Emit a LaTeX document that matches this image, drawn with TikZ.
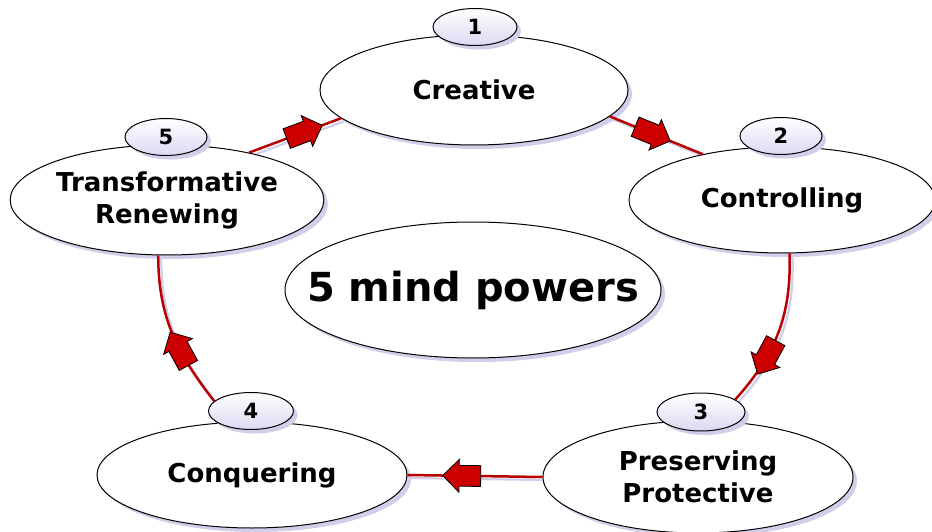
\documentclass[tikz,border=0pt]{standalone}
\usepackage{fontspec}
\setmainfont{DejaVu Sans}
\usetikzlibrary{shapes.geometric,shapes.arrows,shadows,backgrounds}
\definecolor{shad}{RGB}{208,206,232}
\definecolor{arrred}{RGB}{204,0,0}
\definecolor{linered}{RGB}{185,0,0}
\definecolor{numbot}{RGB}{222,216,242}
\begin{document}
\begin{tikzpicture}[x=1pt,y=1pt,
  eshadow/.style={drop shadow={shadow xshift=4pt,shadow yshift=-4pt,fill=shad,opacity=1}},
  bigell/.style={ellipse,draw=black,line width=1pt,fill=white,inner sep=0pt,
    font=\fontsize{26}{32}\selectfont\bfseries,align=center,eshadow},
  numell/.style={ellipse,draw=black,line width=1pt,top color=white,bottom color=numbot,
    inner sep=0pt,font=\fontsize{21}{24}\selectfont\bfseries,eshadow},
  conn/.style={draw=linered,line width=2.5pt},
  connshadow/.style={draw=shad,line width=2.2pt,transform canvas={xshift=3pt,yshift=-3pt}},
  blockarrow/.style={single arrow,draw=black,line width=0.8pt,fill=arrred,
    minimum height=38pt,minimum width=32pt,single arrow head extend=6pt,
    inner sep=10pt,sloped,allow upside down}
]
\useasboundingbox (0,0) rectangle (932,531);
% main ellipses
\node[bigell,minimum width=308pt,minimum height=110pt] (crea) at (474,441) {Creative};
\node[bigell,minimum width=306pt,minimum height=106pt] (ctrl) at (782,331) {Controlling};
\node[bigell,minimum width=310pt,minimum height=112pt] (pres) at (698,54) {Preserving\\Protective};
\node[bigell,minimum width=310pt,minimum height=106pt] (conq) at (252,56) {Conquering};
\node[bigell,minimum width=310pt,minimum height=110pt] (trans) at (167,331) {Transformative\\Renewing};
\node[bigell,minimum width=376pt,minimum height=136pt,font=\fontsize{40}{44}\selectfont\bfseries] (center) at (473,241) {\makebox[0pt]{5 mind powers}};
% number ellipses
\node[numell,minimum width=84pt,minimum height=37pt] (n1) at (475,504) {1};
\node[numell,minimum width=82pt,minimum height=37pt] (n2) at (781,395) {2};
\node[numell,minimum width=88pt,minimum height=38pt] (n3) at (701,119) {3};
\node[numell,minimum width=85pt,minimum height=37pt] (n4) at (251,120) {4};
\node[numell,minimum width=82pt,minimum height=37pt] (n5) at (166,394) {5};
% background and connector shadows
\begin{scope}[on background layer]
\fill[white] (0,0) rectangle (932,531);
\path[connshadow] (trans.30) -- (crea.192);
\path[connshadow] (crea.-11) -- (ctrl.150);
\path[connshadow] (ctrl.-82) to[out=-88,in=48] (n3.20);
\path[connshadow] (pres.west) -- (conq.east);
\path[connshadow] (n4.165) to[out=128,in=-90] (trans.-99);
\end{scope}
% connectors with block arrows
\draw[conn] (trans.30) -- node[blockarrow,pos=0.55]{} (crea.192);
\draw[conn] (crea.-11) -- node[blockarrow,pos=0.41]{} (ctrl.150);
\draw[conn] (ctrl.-82) to[out=-88,in=48] node[blockarrow,pos=0.65]{} (n3.20);
\draw[conn] (pres.west) -- node[blockarrow,pos=0.56]{} (conq.east);
\draw[conn] (n4.165) to[out=128,in=-90] node[blockarrow,pos=0.35]{} (trans.-99);
\end{tikzpicture}
\end{document}
